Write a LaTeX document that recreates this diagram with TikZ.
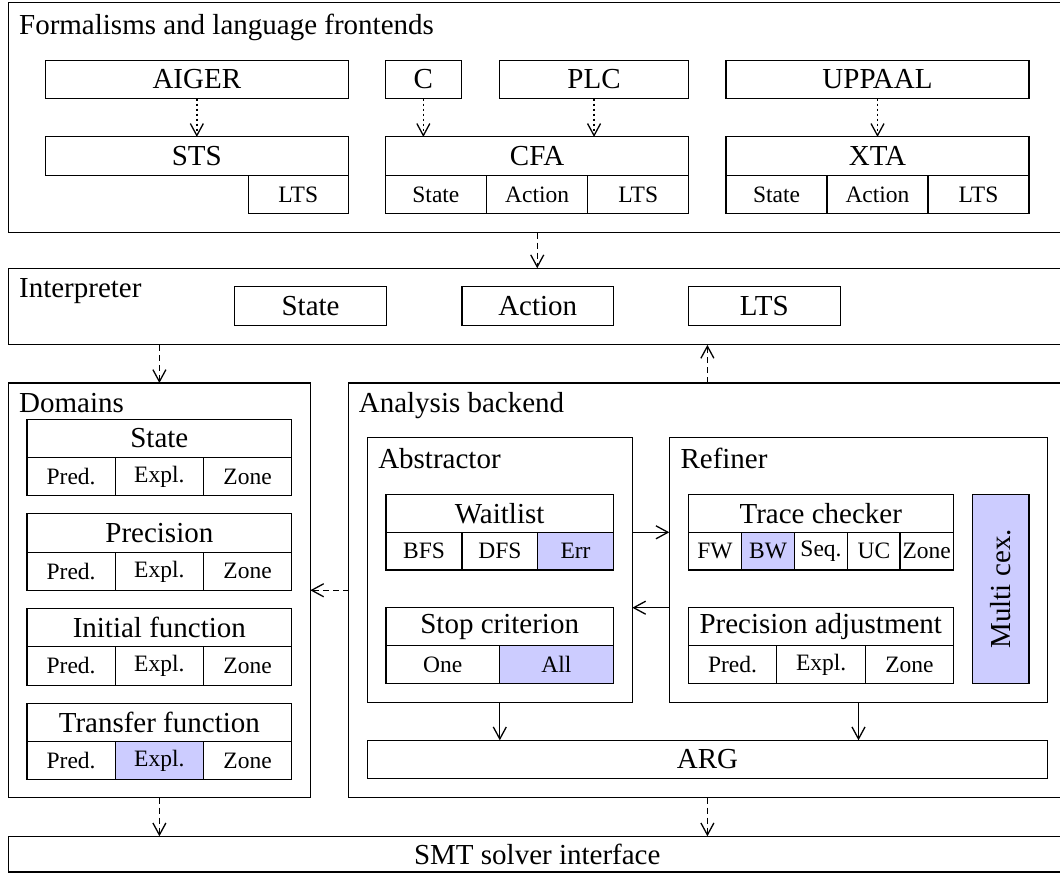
\documentclass[tikz,border=0pt]{standalone}
\usepackage{fontspec}
\setmainfont{Liberation Serif}
\usetikzlibrary{arrows.meta}
\definecolor{hl}{HTML}{CCCCFF}
\newcommand\bigf{\fontsize{29}{33}\selectfont}
\newcommand\smf{\fontsize{23.5}{27}\selectfont}
\newcommand\bxx[7][]{\node[bxs,#1,minimum width={#5pt-#3pt},minimum height={#6pt-#4pt}] (#2) at ({(#3+#5)/2},{(#4+#6)/2}) {#7};}
\begin{document}
\begin{tikzpicture}[x=1pt,y=-1pt,line width=1.1pt,
  bxs/.style={draw,rectangle,inner sep=0pt,outer sep=0pt},
  lg/.style={font=\bigf},
  sm/.style={font=\smf},
  hlf/.style={fill=hl},
  title/.style={anchor=base west,font=\bigf,inner sep=0pt},
  arr/.style={-{Straight Barb[length=12pt,width=13pt,line width=1.3pt]},line width=1.3pt},
  dotarr/.style={arr,dash pattern=on 1.8pt off 3.2pt},
  dasharr/.style={arr,dash pattern=on 6pt off 4pt}]
\useasboundingbox (0,0) rectangle (1060,873);
% containers
\bxx{form}{8.5}{2.7}{1066}{232.5}{}
\bxx{interp}{8.5}{268.2}{1066}{344.9}{}
\bxx{dom}{8.5}{383}{310.3}{797.5}{}
\bxx{ana}{348.8}{383}{1066}{797.5}{}
\bxx[lg]{smt}{8.5}{836.3}{1066}{872}{SMT solver interface}
\bxx{abs}{367.3}{437.3}{632.3}{702.3}{}
\bxx{ref}{669.3}{437.3}{1047.7}{702.3}{}
% titles
\node[title] (tform) at (18.6,34) {Formalisms and language frontends};
\node[title] (tinterp) at (18.6,297) {Interpreter};
\node[title] (tdom) at (18.6,412.5) {Domains};
\node[title] (tana) at (358.3,412.5) {Analysis backend};
\node[title] (tabs) at (377.7,468.3) {Abstractor};
\node[title] (tref) at (680,468.3) {Refiner};
% formalisms
\bxx[lg]{aiger}{45.6}{60.2}{348.1}{98.7}{AIGER}
\bxx[lg]{sts}{45.6}{136.9}{348.1}{175.1}{STS}
\bxx[sm]{stslts}{248.4}{175.1}{348.1}{213.6}{LTS}
\bxx[lg]{c}{385.3}{60.2}{461.4}{98.7}{C}
\bxx[lg]{plc}{499.2}{60.2}{688.9}{98.7}{PLC}
\bxx[lg]{cfa}{385.3}{136.9}{688.9}{175.1}{CFA}
\bxx[sm]{cfas}{385.3}{175.1}{486.5}{213.6}{State}
\bxx[sm]{cfaa}{486.5}{175.1}{587.7}{213.6}{Action}
\bxx[sm]{cfal}{587.7}{175.1}{688.9}{213.6}{LTS}
\bxx[lg]{upp}{726}{60.2}{1029}{98.7}{UPPAAL}
\bxx[lg]{xta}{726}{136.9}{1029}{175.1}{XTA}
\bxx[sm]{xtas}{726}{175.1}{827}{213.6}{State}
\bxx[sm]{xtaa}{827}{175.1}{928}{213.6}{Action}
\bxx[sm]{xtal}{928}{175.1}{1029}{213.6}{LTS}
% interpreter
\bxx[lg]{ist}{234.9}{286.8}{386.3}{325.6}{State}
\bxx[lg]{iac}{462}{286.8}{613.5}{325.6}{Action}
\bxx[lg]{ilt}{688.2}{286.8}{840.3}{325.6}{LTS}
% domains
\bxx[lg]{dst}{27}{419.3}{291.7}{457.6}{State}
\bxx[sm]{dstp}{27}{457.6}{115.2}{495.9}{Pred.}
\bxx[sm]{dste}{115.2}{457.6}{203.4}{495.9}{Expl.}
\bxx[sm]{dstz}{203.4}{457.6}{291.7}{495.9}{Zone}
\bxx[lg]{dpr}{27}{513.9}{291.7}{552.2}{Precision}
\bxx[sm]{dprp}{27}{552.2}{115.2}{590.5}{Pred.}
\bxx[sm]{dpre}{115.2}{552.2}{203.4}{590.5}{Expl.}
\bxx[sm]{dprz}{203.4}{552.2}{291.7}{590.5}{Zone}
\bxx[lg]{din}{27}{608.5}{291.7}{646.8}{Initial function}
\bxx[sm]{dinp}{27}{646.8}{115.2}{685.1}{Pred.}
\bxx[sm]{dine}{115.2}{646.8}{203.4}{685.1}{Expl.}
\bxx[sm]{dinz}{203.4}{646.8}{291.7}{685.1}{Zone}
\bxx[lg]{dtr}{27}{703.1}{291.7}{741.4}{Transfer function}
\bxx[sm]{dtrp}{27}{741.4}{115.2}{779.7}{Pred.}
\bxx[sm,hlf]{dtre}{115.2}{741.4}{203.4}{779.7}{Expl.}
\bxx[sm]{dtrz}{203.4}{741.4}{291.7}{779.7}{Zone}
% abstractor
\bxx[lg]{wl}{386}{494.3}{613.3}{532.3}{Waitlist}
\bxx[sm]{wlb}{386}{532.3}{462}{570}{BFS}
\bxx[sm]{wld}{462}{532.3}{537.7}{570}{DFS}
\bxx[sm,hlf]{wle}{537.7}{532.3}{613.3}{570}{Err}
\bxx[lg]{stop}{386}{607.7}{613.3}{645.7}{Stop criterion}
\bxx[sm]{stopo}{386}{645.7}{499.3}{683.3}{One}
\bxx[sm,hlf]{stopa}{499.3}{645.7}{613.3}{683.3}{All}
% refiner
\bxx[lg]{tc}{688.3}{494.3}{953.3}{532.3}{Trace checker}
\bxx[sm]{tcf}{688.3}{532.3}{741.7}{570}{FW}
\bxx[sm,hlf]{tcb}{741.7}{532.3}{794.3}{570}{BW}
\bxx[sm]{tcs}{794.3}{532.3}{847.7}{570}{Seq.}
\bxx[sm]{tcu}{847.7}{532.3}{900}{570}{UC}
\bxx[sm]{tcz}{900}{532.3}{953.3}{570}{Zone}
\bxx[lg]{pa}{688.3}{607.7}{953.3}{645.7}{Precision adjustment}
\bxx[sm]{pap}{688.3}{645.7}{776.7}{683.3}{Pred.}
\bxx[sm]{pae}{776.7}{645.7}{865.7}{683.3}{Expl.}
\bxx[sm]{paz}{865.7}{645.7}{953.3}{683.3}{Zone}
\node[bxs,hlf,lg,rotate=90,minimum width=189pt,minimum height=56.7pt] (multi) at (1000.65,588.8) {Multi cex.};
\bxx[lg]{arg}{367.3}{740.3}{1047.7}{778.3}{ARG}
% connectors
\draw[dotarr] (aiger.south) -- (sts.north);
\draw[dotarr] (c.south) -- (c.south |- cfa.north);
\draw[dotarr] (plc.south) -- (plc.south |- cfa.north);
\draw[dotarr] (upp.south) -- (xta.north);
\draw[dasharr] (form.south) -- (form.south |- interp.north);
\draw[dasharr] (interp.south -| dom.north) -- (dom.north);
\draw[dasharr] (ana.north) -- (ana.north |- interp.south);
\draw[dasharr] (ana.west) -- (ana.west -| dom.east);
\draw[dasharr] (dom.south) -- (dom.south |- smt.north);
\draw[dasharr] (ana.south) -- (ana.south |- smt.north);
\draw[arr] (abs.east |- wl.south) -- (ref.west |- wl.south);
\draw[arr] (ref.west |- stop.north) -- (abs.east |- stop.north);
\draw[arr] (abs.south) -- (abs.south |- arg.north);
\draw[arr] (ref.south) -- (ref.south |- arg.north);
\end{tikzpicture}
\end{document}
